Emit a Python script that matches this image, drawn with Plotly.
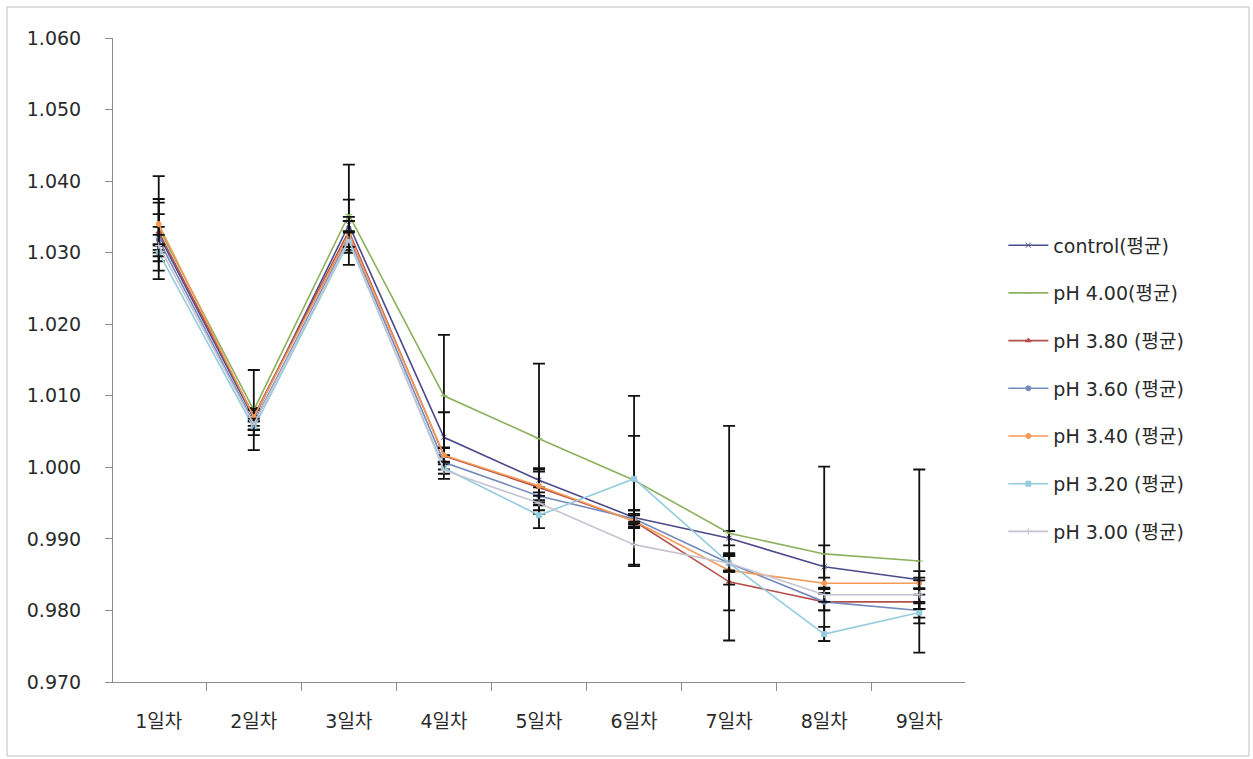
import plotly.graph_objects as go

# Categories (days)
days = ["1일차", "2일차", "3일차", "4일차", "5일차", "6일차", "7일차", "8일차", "9일차"]

# Mean values per treatment
control = [1.0325, 1.0068, 1.0339, 1.0042, 0.9982, 0.9930, 0.9901, 0.9861, 0.9843]
ph400 = [1.0335, 1.0080, 1.0353, 1.0100, 1.0040, 0.9982, 0.9908, 0.9879, 0.9869]
ph380 = [1.0329, 1.0072, 1.0330, 1.0016, 0.9972, 0.9925, 0.9840, 0.9812, 0.9812]
ph360 = [1.0318, 1.0062, 1.0322, 1.0007, 0.9960, 0.9928, 0.9866, 0.9812, 0.9800]
ph340 = [1.0340, 1.0070, 1.0326, 1.0017, 0.9974, 0.9925, 0.9856, 0.9838, 0.9838]
ph320 = [1.0300, 1.0055, 1.0315, 0.9999, 0.9933, 0.9984, 0.9866, 0.9767, 0.9797]
ph300 = [1.0310, 1.0060, 1.0318, 0.9996, 0.9950, 0.9892, 0.9866, 0.9822, 0.9822]

# Standard deviations per treatment
control_sd = [0.0050, 0.0015, 0.0035, 0.0035, 0.0017, 0.0010, 0.0010, 0.0030, 0.0012]
ph400_sd = [0.0072, 0.0056, 0.0070, 0.0085, 0.0105, 0.0118, 0.0150, 0.0122, 0.0128]
ph380_sd = [0.0025, 0.0008, 0.0020, 0.0012, 0.0025, 0.0008, 0.0040, 0.0012, 0.0010]
ph360_sd = [0.0018, 0.0010, 0.0022, 0.0010, 0.0012, 0.0012, 0.0012, 0.0012, 0.0010]
ph340_sd = [0.0030, 0.0012, 0.0018, 0.0010, 0.0020, 0.0010, 0.0020, 0.0008, 0.0008]
ph320_sd = [0.0012, 0.0010, 0.0015, 0.0008, 0.0018, 0.0060, 0.0010, 0.0010, 0.0015]
ph300_sd = [0.0015, 0.0008, 0.0010, 0.0012, 0.0010, 0.0030, 0.0012, 0.0010, 0.0020]

y_ticks = [0.970, 0.980, 0.990, 1.000, 1.010, 1.020, 1.030, 1.040, 1.050, 1.060]

series = [
    ("control(평균)", control, control_sd, "#4B4A8A", "x-thin-open"),
    ("pH 4.00(평균)", ph400, ph400_sd, "#8DB05E", "line-ew-open"),
    ("pH 3.80 (평균)", ph380, ph380_sd, "#B3504B", "triangle-up"),
    ("pH 3.60 (평균)", ph360, ph360_sd, "#7489BC", "circle"),
    ("pH 3.40 (평균)", ph340, ph340_sd, "#F39A57", "circle"),
    ("pH 3.20 (평균)", ph320, ph320_sd, "#94CCDD", "square"),
    ("pH 3.00 (평균)", ph300, ph300_sd, "#C4C4D2", "cross-thin-open"),
]

FONT = "DejaVu Sans, Noto Sans CJK KR, sans-serif"

fig = go.Figure()
for i, (name, vals, sd, color, sym) in enumerate(series):
    fig.add_trace(go.Scatter(
        x=days, y=vals, name=name, mode="lines+markers",
        legendgroup=f"g{i}",
        line=dict(color=color, width=1.6),
        marker=dict(color=color, size=5, symbol=sym, line=dict(color=color, width=1)),
        error_y=dict(type="data", array=sd, visible=True,
                     color="#111111", thickness=1.8, width=6),
    ))

fig.update_layout(
    width=1253, height=759,
    margin=dict(l=113, r=288, t=38, b=77),
    paper_bgcolor="white", plot_bgcolor="white",
    font=dict(family=FONT, size=19, color="#2A2A2A"),
    showlegend=True,
    legend=dict(
        x=1.045, y=0.456, xanchor="left", yanchor="middle",
        font=dict(family=FONT, size=19, color="#2A2A2A"),
        tracegroupgap=20, traceorder="grouped",
        itemwidth=40, bgcolor="rgba(0,0,0,0)",
    ),
    xaxis=dict(
        type="category", showgrid=False, zeroline=False,
        showline=True, linecolor="#8C8C8C", linewidth=1,
        ticks="outside", tickson="boundaries", ticklen=8,
        tickcolor="#8C8C8C", tickfont=dict(size=19, color="#2A2A2A"),
        ticklabelstandoff=22,
    ),
    yaxis=dict(
        range=[0.970, 1.060], tickvals=y_ticks,
        tickformat=".3f", showgrid=False, zeroline=False,
        showline=True, linecolor="#8C8C8C", linewidth=1,
        ticks="outside", ticklen=7, tickcolor="#8C8C8C",
        tickfont=dict(size=19, color="#2A2A2A"),
        ticklabelstandoff=20,
    ),
    shapes=[dict(
        type="rect", xref="paper", yref="paper",
        x0=(7 - 113) / 852, x1=(1249 - 113) / 852,
        y0=(682 - 756) / 644, y1=(682 - 7) / 644,
        line=dict(color="#BFBFBF", width=1), fillcolor="rgba(0,0,0,0)",
        layer="below",
    )],
)

fig.write_html("out.html")
